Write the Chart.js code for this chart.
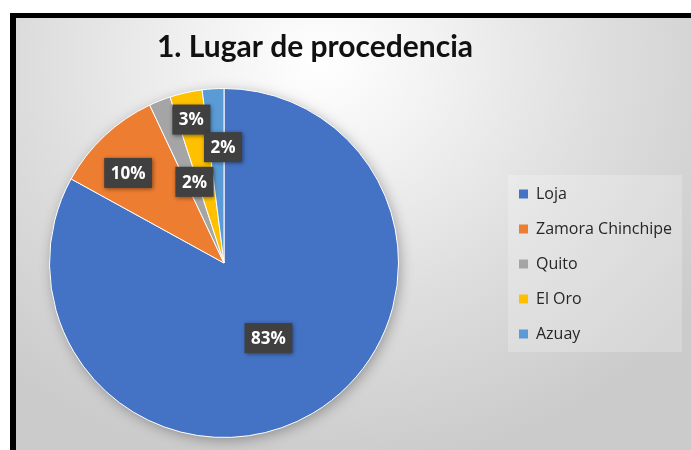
<!DOCTYPE html>
<html><head><meta charset="utf-8">
<script src="https://cdn.jsdelivr.net/npm/chart.js@4.4.0/dist/chart.umd.min.js"></script>
<style>
html,body{margin:0;padding:0;background:#fff;width:691px;height:450px;overflow:hidden}
#frame{position:absolute;left:10px;top:13px;width:681px;height:437px;box-sizing:border-box;
 border-left:6px solid #000;border-top:5px solid #000;
 background:radial-gradient(ellipse 70% 95% at 45% 10%, #ffffff 0%, #f2f2f2 25%, #dedede 60%, #cbcbcb 100%);}
canvas{position:absolute;left:0;top:0}
</style></head><body>
<div id="frame"><canvas id="c" width="675" height="432"></canvas></div>
<script>
// ---- data ----
const categories = ['Loja', 'Zamora Chinchipe', 'Quito', 'El Oro', 'Azuay'];
const percentages = [83, 10, 2, 3, 2];
const sliceColors = ['#4472C4', '#ED7D31', '#A5A5A5', '#FFC000', '#5B9BD5'];
const chartTitle = '1. Lugar de procedencia';

// ---- layout (canvas coordinates) ----
const PIE_BOX = {left: 33, top: 70, right: 383, bottom: 420};
const TITLE_SIZE = 30, TITLE_CX = 299, TITLE_MID = 29;
const LEGEND_LEFT = 484, LEGEND_TOP = 100, LEGEND_BOTTOM = 392;
const LEGEND_BG = {x: 492, y: 157, w: 174, h: 177};
// label placement inside each slice: r = fraction of radius, t = fraction of slice angle
const LABEL_PLACE = [{r:0.50,t:0.50},{r:0.754,t:0.40},{r:0.495,t:0.72},{r:0.843,t:0.48},{r:0.664,t:0.93}];

const placer = {
  id: 'placer',
  afterLayout(chart) {
    const ca = chart.chartArea;
    ca.left = PIE_BOX.left; ca.top = PIE_BOX.top; ca.right = PIE_BOX.right; ca.bottom = PIE_BOX.bottom;
    ca.width = ca.right - ca.left; ca.height = ca.bottom - ca.top;
    const lg = chart.legend;
    if (lg) { const w = lg.width; lg.left = LEGEND_LEFT; lg.right = LEGEND_LEFT + w; lg.top = LEGEND_TOP; lg.bottom = LEGEND_BOTTOM; lg.height = LEGEND_BOTTOM - LEGEND_TOP; }
    const t = chart.titleBlock;
    if (t) { const lh = TITLE_SIZE * 1.2; t.left = TITLE_CX - 320; t.right = TITLE_CX + 320; t.width = 640; t.top = TITLE_MID - lh / 2; t.bottom = t.top + lh; }
  },
  beforeDraw(chart) {
    const ctx = chart.ctx;
    ctx.save();
    ctx.fillStyle = 'rgba(255,255,255,0.22)';
    ctx.fillRect(LEGEND_BG.x, LEGEND_BG.y, LEGEND_BG.w, LEGEND_BG.h);
    ctx.restore();
  },
  beforeDatasetsDraw(chart) {
    const arc = chart.getDatasetMeta(0).data[0];
    if (!arc) return;
    const {x, y, outerRadius} = arc.getProps(['x', 'y', 'outerRadius'], true);
    const ctx = chart.ctx;
    ctx.save();
    ctx.shadowColor = 'rgba(0,0,0,0.35)';
    ctx.shadowBlur = 14; ctx.shadowOffsetX = 2; ctx.shadowOffsetY = 3;
    ctx.fillStyle = sliceColors[0];
    ctx.beginPath(); ctx.arc(x, y, outerRadius - 1, 0, Math.PI * 2); ctx.fill();
    ctx.restore();
  },
  afterDatasetsDraw(chart) {
    const meta = chart.getDatasetMeta(0);
    const data = chart.data.datasets[0].data;
    const total = data.reduce((a, b) => a + b, 0);
    const ctx = chart.ctx;
    ctx.save();
    ctx.font = 'bold 17px "Open Sans"';
    ctx.textAlign = 'center'; ctx.textBaseline = 'middle';
    meta.data.forEach((arc, i) => {
      const p = arc.getProps(['x', 'y', 'startAngle', 'endAngle', 'outerRadius'], true);
      const pl = LABEL_PLACE[i];
      const a = p.startAngle + (p.endAngle - p.startAngle) * pl.t;
      const cx = p.x + Math.cos(a) * p.outerRadius * pl.r;
      const cy = p.y + Math.sin(a) * p.outerRadius * pl.r;
      const txt = Math.round(data[i] / total * 100) + '%';
      const w = ctx.measureText(txt).width + 13, h = 30;
      ctx.save();
      ctx.shadowColor = 'rgba(0,0,0,0.45)'; ctx.shadowBlur = 4; ctx.shadowOffsetX = 1; ctx.shadowOffsetY = 1;
      ctx.fillStyle = '#404040';
      ctx.fillRect(cx - w / 2, cy - h / 2, w, h);
      ctx.restore();
      ctx.fillStyle = '#ffffff';
      ctx.fillText(txt, cx, cy + 1);
    });
    ctx.restore();
  }
};

new Chart(document.getElementById('c'), {
  type: 'pie',
  data: {
    labels: categories,
    datasets: [{ data: percentages, backgroundColor: sliceColors, borderColor: '#ffffff', borderWidth: 1, hoverOffset: 0 }]
  },
  options: {
    responsive: false,
    animation: false,
    events: [],
    layout: { padding: 0 },
    plugins: {
      title: { display: true, text: chartTitle, color: '#111111', padding: 0,
               font: { family: 'Lato', weight: 'bold', size: TITLE_SIZE, lineHeight: 1.2 } },
      legend: {
        position: 'right',
        labels: {
          boxWidth: 9, boxHeight: 9, padding: 19, color: '#262626',
          font: { family: '"Open Sans"', size: 16 },
          generateLabels(chart) {
            const items = Chart.overrides.pie.plugins.legend.labels.generateLabels(chart);
            items.forEach(it => { it.lineWidth = 0; it.strokeStyle = 'rgba(0,0,0,0)'; });
            return items;
          }
        }
      },
      tooltip: { enabled: false }
    }
  },
  plugins: [placer]
});
</script>
</body></html>
